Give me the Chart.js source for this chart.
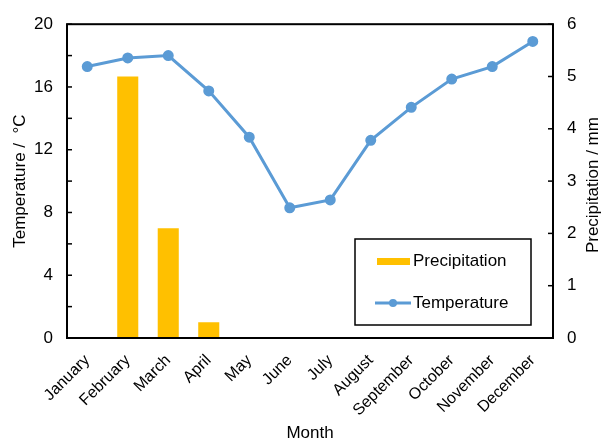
<!DOCTYPE html>
<html>
<head>
<meta charset="utf-8">
<script src="https://cdn.jsdelivr.net/npm/chart.js@4"></script>
<style>
  html, body { margin: 0; padding: 0; background: #fff; }
  #wrap { width: 601px; height: 442px; }
</style>
</head>
<body>
<div id="wrap"><canvas id="climate-chart" width="601" height="442"></canvas></div>
<script>
const months = ['January', 'February', 'March', 'April', 'May', 'June',
    'July', 'August', 'September', 'October', 'November', 'December'];
const temperature = [17.3, 17.85, 18.0, 15.75, 12.8, 8.3, 8.8, 12.6, 14.7, 16.5, 17.3, 18.9];
const precipitation = [null, 5.0, 2.1, 0.3, null, null, null, null, null, null, null, null];
const tempTickLabels = [0, 4, 8, 12, 16, 20];
const precipTickLabels = [0, 1, 2, 3, 4, 5, 6];
const rightTitle = 'Precipitation / mm';

const FONT = 'Liberation Sans, Arial, sans-serif';

// frame, inside tick marks, right axis title and the boxed legend
const framePlugin = {
    id: 'frame',
    afterDraw(chart) {
        const ctx = chart.ctx;
        const a = chart.chartArea;
        ctx.save();
        ctx.strokeStyle = '#000';
        ctx.lineWidth = 2;
        ctx.strokeRect(a.left, a.top, a.right - a.left, a.bottom - a.top);

        // inside tick marks
        ctx.lineWidth = 1.5;
        const y = chart.scales.y;
        y.ticks.forEach(t => {
            const py = y.getPixelForValue(t.value);
            ctx.beginPath();
            ctx.moveTo(a.left, py);
            ctx.lineTo(a.left + 5, py);
            ctx.stroke();
        });
        const y1 = chart.scales.y1;
        y1.ticks.forEach(t => {
            const py = y1.getPixelForValue(t.value);
            ctx.beginPath();
            ctx.moveTo(a.right, py);
            ctx.lineTo(a.right - 5, py);
            ctx.stroke();
        });

        // right axis title, reading bottom to top like the left one
        ctx.save();
        ctx.translate(593, (a.top + a.bottom) / 2 + 4);
        ctx.rotate(-Math.PI / 2);
        ctx.fillStyle = '#000';
        ctx.font = '17px ' + FONT;
        ctx.textAlign = 'center';
        ctx.textBaseline = 'middle';
        ctx.fillText(rightTitle, 0, 0);
        ctx.restore();

        // legend box
        const bx = 355, by = 239, bw = 176, bh = 86;
        ctx.fillStyle = '#fff';
        ctx.fillRect(bx, by, bw, bh);
        ctx.strokeStyle = '#000';
        ctx.lineWidth = 1.5;
        ctx.strokeRect(bx, by, bw, bh);

        const bars = chart.data.datasets[1];
        const line = chart.data.datasets[0];
        ctx.fillStyle = bars.backgroundColor;
        ctx.fillRect(377, 258, 33, 7);

        ctx.strokeStyle = line.borderColor;
        ctx.lineWidth = 3;
        ctx.beginPath();
        ctx.moveTo(375, 303);
        ctx.lineTo(411, 303);
        ctx.stroke();
        ctx.fillStyle = line.borderColor;
        ctx.beginPath();
        ctx.arc(393, 303, 4, 0, Math.PI * 2);
        ctx.fill();

        ctx.fillStyle = '#000';
        ctx.font = '17px ' + FONT;
        ctx.textBaseline = 'middle';
        ctx.textAlign = 'left';
        ctx.fillText(bars.label, 413, 261);
        ctx.fillText(line.label, 413, 303);
        ctx.restore();
    }
};

const ctx = document.getElementById('climate-chart').getContext('2d');
const climateChart = new Chart(ctx, {
    data: {
        labels: months,
        datasets: [{
            type: 'line',
            label: 'Temperature',
            data: temperature,
            yAxisID: 'y',
            borderColor: '#5B9BD5',
            backgroundColor: '#5B9BD5',
            borderWidth: 3,
            pointRadius: 4,
            pointHoverRadius: 4,
            tension: 0,
            order: 0
        }, {
            type: 'bar',
            label: 'Precipitation',
            data: precipitation,
            yAxisID: 'y1',
            backgroundColor: '#FFC000',
            barPercentage: 0.52,
            categoryPercentage: 1,
            order: 1
        }]
    },
    options: {
        responsive: false,
        animation: false,
        events: [],
        layout: { padding: { top: 22, left: 0, right: 0, bottom: 0 } },
        plugins: {
            legend: { display: false },
            tooltip: { enabled: false }
        },
        scales: {
            x: {
                grid: { display: false, drawTicks: false },
                border: { display: false },
                ticks: {
                    color: '#000',
                    font: { family: FONT, size: 16 },
                    minRotation: 45,
                    maxRotation: 45,
                    autoSkip: false,
                    padding: 13
                },
                title: {
                    display: true,
                    text: 'Month',
                    color: '#000',
                    font: { family: FONT, size: 17, lineHeight: 1 },
                    padding: { top: 0, bottom: 0 }
                },
                afterFit(scale) { scale.height = 104; }
            },
            y: {
                position: 'left',
                min: 0,
                max: 20,
                grid: { display: false, drawTicks: false },
                border: { display: false },
                ticks: {
                    stepSize: 2,
                    color: '#000',
                    font: { family: FONT, size: 17 },
                    padding: 14,
                    callback: v => tempTickLabels.includes(v) ? v : ''
                },
                title: {
                    display: true,
                    text: 'Temperature /  °C',
                    color: '#000',
                    font: { family: FONT, size: 17 },
                    padding: { top: 10, bottom: 0 }
                },
                afterFit(scale) { scale.width = 67; }
            },
            y1: {
                position: 'right',
                min: 0,
                max: 6,
                grid: { display: false, drawTicks: false },
                border: { display: false },
                ticks: {
                    stepSize: 1,
                    color: '#000',
                    font: { family: FONT, size: 17 },
                    padding: 14,
                    callback: v => precipTickLabels.includes(v) ? v : ''
                },
                afterFit(scale) { scale.width = 48; }
            }
        }
    },
    plugins: [framePlugin]
});
</script>
</body>
</html>
